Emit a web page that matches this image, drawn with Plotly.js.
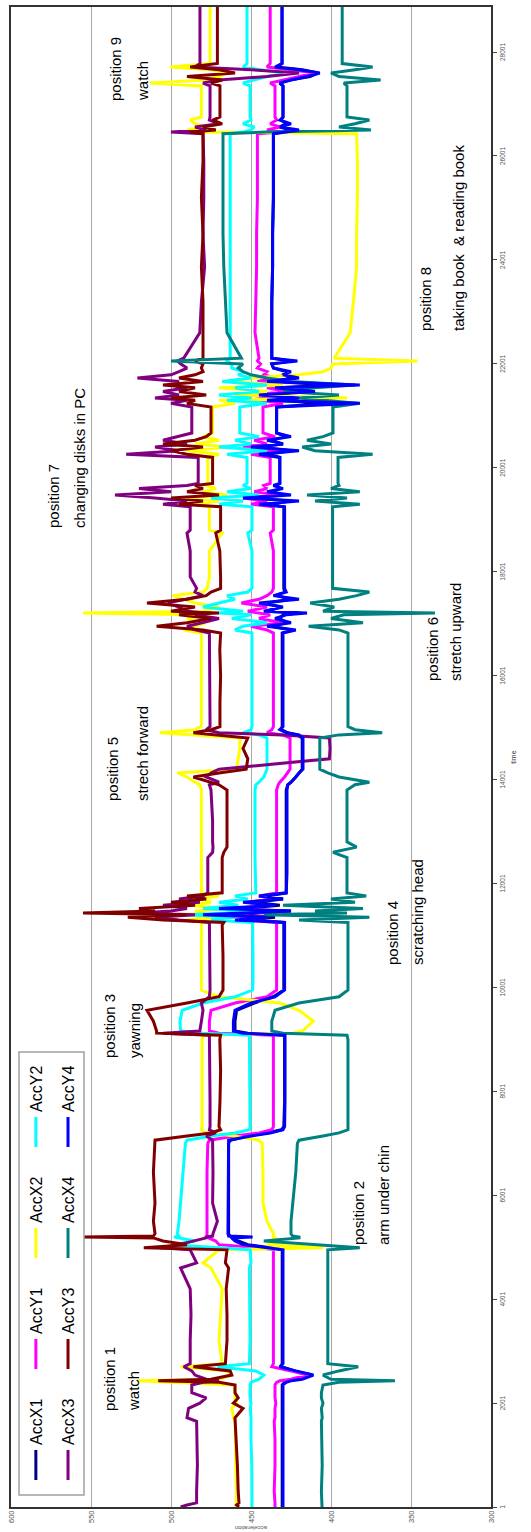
<!DOCTYPE html>
<html><head><meta charset="utf-8">
<script src="https://cdn.plot.ly/plotly-3.0.1.min.js"></script>
<style>
html,body{margin:0;padding:0;background:#fff;overflow:hidden;width:531px;height:1532px;}
#chart{position:absolute;left:0;top:0;width:1532px;height:531px;transform-origin:0 0;transform:translate(0px,1532px) rotate(-90deg);}
</style></head><body><div id="chart"></div><script>
// sample index (time)
var time = [
1,40,80,300,800,1300,1650,1720,1900,2000,2100,2200,2260,2350,
2400,2430,2460,2540,2620,2700,
2760,3200,3700,4200,4600,4700,4950,
4990,5050,5120,5180,5197,5215,5260,
5500,5850,6450,7000,
7060,7140,7200,7260,7320,
7800,8400,9000,9080,
9120,9160,9350,9560,9700,9820,9950,
10100,10600,11200,11250,
11300,11350,11400,11433,11470,11520,11580,11640,11700,11760,11820,
12200,12500,12600,12700,12800,13200,13800,
13900,13950,14050,14127,14200,
14400,14600,14800,
14860,14900,14960,15020,
15500,16000,16500,16820,
16880,16950,17020,17100,17170,17206,17240,17320,17398,17470,17540,17610,17680,
17900,18400,18745,18800,19250,
19300,19360,19420,19477,19540,19600,19660,19700,
19950,20200,
20260,20330,20400,20460,20530,20600,20670,
20900,21170,
21240,21300,21343,21400,21470,21540,21594,21660,21728,21790,21850,21920,
22000,22055,22110,22600,
23200,23867,24500,25200,25900,26430,
26463,26501,26560,26620,26693,26750,
27000,27350,
27405,27464,27530,27598,27660,27713,27780,
28200,28868];

var accX1 = [
430.5,430.5,430.5,430.5,430.5,430.5,430.5,430.5,430.5,430.5,430.5,430.5,430.5,430.5,
429,428,420,412,423,431,
430.5,430.5,430.5,430.5,430.5,430.5,430.5,
438,452,458,462,462,463,464,
464,464,464,464,
463,452,440,431,429.5,
429,429,429,429,
452,460,460,459,448,436,429.5,
429.5,429.5,429.5,429.5,
450,435,465,445,425,455,432,448,430,440,428,
428,428,428,428,428,428,428,
427,425,422,420,418,
418,418,418,
421,427,431,430.5,
430.5,430.5,430.5,430.5,
425,437,428,432,430,420,440,432,440,425,434,429,429.5,
429.5,429.5,429.5,429.5,429.5,
440,425,450,430,437,432,434,432,
432,432,
440,425,446,430,438,428,434,
434,434,
400,438,425,440,418,432,400,436,425,430,428,436,
437,425,437,437,
437,436.5,436.5,436,436,436,
430,425,432,428,431,430,
430,430,
432,426,413,408,418,434,430.6,
430.6,430.6];

var accY1 = [
435,435,435,435.5,435,435,435.5,435,435,434.5,435,435,435,435,
434,432,425,415,425,437,
436,436,436,436,436,436,436,
445,470,472,477,478,477.5,477.5,
477.5,477.5,477.5,477,
476,460,445,437,436,
436,436,436,436,
470,476,476,475,460,440,434,
434,434,434,434,
455,440,470,450,430,460,440,452,435,445,434,
434,434,434,434,434,434,434,
433,432,429,427,425.6,
425.6,425.6,425.6,
430,440,437,436,
436,436,436,436,
440,450,430,445,438,445,452,440,456,445,440,437,436,
436,436,438,436,436,
450,440,455,432,448,440,442,438,
438,438,
450,430,455,440,448,435,442.5,
442.5,442.5,
430,445,435,450,428,440,432,446,435,442,440,446,
444,446,445,447.5,
447,446.5,446.5,446,446,446,
430,440,432,438,434,435,
435,435,
438,430,420,410,425,440,438,
438,438];

var accX2 = [
459.4,459.4,459.4,459,459.5,460,460,461,462,459,460,460,460,460,
500,521,470,462,465,494,
468,470,469,468,475,480,470,
405,440,430,436,436,436,436,
440,442.5,442.5,443,
445,460,478,481,480.6,
480.6,480.6,480.6,480,
424,418,411,420,432,470,481,
481,481,481,481,
490,470,495,478,485,465,488,475,482,470,481,
481,481,481,481,481,481,481,
482,485,490,496,459,
458,457,457,
490,507,485,481,
481,481,481,481,
492,485,478,490,483,555,480,470,485,492,499,480,477.5,
476,476,468,476,476,
485,470,490,465,480,472,478,477,
477,477,
470,490,465,485,470,480,474,
474,474,
460,470,390,460,440,470,430,465,450,420,405,400,
399,346,398,388,
386,384,384,383.5,383.5,384,
480,490,478,485,488,481,
481,481,
513,478,470,465,475,500.6,475.6,
475.6,475.6];

var accY2 = [
449.4,449.4,449.4,449.5,449.5,450,450,450,450.5,450,450.6,450.6,450.6,450.6,
450,448,445,442,447,471,
451,450.6,450.6,450.6,451,450,450.6,
470,499,485,497,498,495,496,
495,494,492.5,491,
490,475,460,451,450.6,
450.6,450.6,450.6,451,
480,494,494.4,493,480,460,449,
448.75,448.75,448.75,449,
475,460,490,465,450,480,458,470,452,460,447,
447.5,447.5,447.5,447.5,447.5,447.5,447.5,
447,445,442,441,440,
440,440,440,
445,455,450,449.4,
449.4,449.4,449.4,449.4,
460,455,440,462,450,470,455,480,470,460,465,452,449.4,
449.4,449.4,452,449.4,449.4,
470,455,475,445,465,450,455,452.5,
452.5,452.5,
465,440,470,450,460,445,457,
457,457,
440,465,450,470,445,460,440,468,450,458,455,462,
462,465,463,463,
463,463,463,463,463,463,
455,450,448,455,450,450.6,
450.6,450.6,
455,448,440,430,445,455,452.5,
452.5,452.5];

var accX3 = [
494,490,484,484,483.5,484,484,490,489,482,478,487,487,487,
480,470,478,485,487,492,
488,488,487.5,488,494,484,488,
507,495,485,478,478,474,473.75,
471,474,473.75,474,
474,478,472,476,475.6,
475.6,475.6,475.6,476,
505,482,481,480,481,476,475.6,
475.6,475.6,475.6,476,
495,510,485,520,500,490,505,482,495,480,477,
476.9,477,474,473.75,474,474,475,
476,470,478,475,470,
401,400.6,401,
430,470,478,475.6,
475.6,475.6,475.6,476,
485,490,480,470,485,478,490,495,502,490,480,485,484,
488,488,490,488,488,
505,490,510,535,500,520,490,483,
483,483,
528,495,510,490,505,495,487,
487,487,
500,490,510,495,505,490,500,495,521,500,495,490,
494,496,492,482,
481,479,480,479.5,479.5,480,
500,478,485,470,476,475.6,
475.6,475.6,
480,470,440,420,450,485,481.9,
481.9,481.9];

var accY3 = [
457.5,459,457.5,458,458.5,459.5,460,460,455,461,458,460,460,460,
470,508,475,462,463,486,
466,465,465,465.5,464,466,465,
517,490,505,511,555,511,510,
511,510,511,510.5,
510,490,475,469,470,
469.4,469,469.5,469,
509,509,511,515,490,470,467.5,
467.5,467.5,468,467,
505,527,490,555,510,520,485,500,478,490,468,
468,468,467,465,465,465,465,
470,475,486,470,453,
452,455,452,
470,486,475,469.4,
469.4,469,469.5,469,
480,509,490,475,495,470,500,485,515,490,478,475,469,
469,469.5,472,469,469,
495,480,500,470,490,480,485,474,
474,474,
490,500,480,505,485,478,475,
475,475,
490,485,500,478,495,485,505,480,495,485,480,481,
480,485,480,480,
480,481,480,481,480,480,
488,472,480,468,474,469.4,
469.4,469.4,
475,468,490,460,470,488,471,
471,471];

var accX4 = [
405.6,405.6,405.6,406,405.5,406,406,405.5,406,405,406,406,405.6,405,
395,360,400,405,395,383,
402,402,402,402,402,402,402,
382,410,442,420,420,424,425,
425,424,422,421,
420,405,395,389.4,389.4,
389.4,389.4,389.4,390,
430,437,437,435,420,395,389.4,
389.4,389.4,389.4,389.4,
420,376,442,390,410,380,430,385,400,378,390,
390,390,398.75,384,390,390,390,
385,376,395,402,407,
407,407,407,
395,368,385,389.4,
389.4,389.4,389.4,389.4,
395,414,380,400,392,335,405,398,413,395,384,376,399,
399,399,399,399,399,
382,410,390,415,382,400,395,395.6,
395.6,395.6,
374,410,418,400,415,405,398.75,
398.75,398.75,
382,405,420,395,430,410,385,425,440,450,455,458,
455,500,456,465,
466,467,467.5,467.5,467.5,467.5,
440,375,395,385,376,390,
390,390,
392,369,395,400,385,374,393,
393,393];

var accY4 = [
430,430,430,430,430,430,430,430,430,430,430,430,430,430,
428,425,418,411,422,432,
430,430,430,430,430,430,430,
440,455,460,462,449,464,464.4,
464.4,464.4,464.4,464.4,
464,450,438,430,429,
428.75,428.75,428.75,428.75,
455,461,461,460,450,435,429,
429,429,429,429,
460,440,480,450,425,470,435,455,430,445,428,
427.5,427.5,427.5,427.5,427.5,427.5,427.5,
427,425,422,420,417.5,
417.5,417.5,417.5,
420,428,432,430,
430,430,430,430,
422,440,425,435,428,415,442,430,445,420,436,428,429,
429,429,429,429,429,
445,420,455,425,440,430,436,432,
432,432,
445,420,450,430,440,425,434,
434,434,
382,440,420,445,410,435,382,440,420,430,425,436,
437,421,437,437,
437,436.5,436.5,436,436,436,
428,420,432,425,432,430,
430,430,
432,425,415,407,420,435,430.6,
430.6,430.6];

var seriesNames = ['AccX1','AccY1','AccX2','AccY2','AccX3','AccY3','AccX4','AccY4'];
var seriesValues = [accX1, accY1, accX2, accY2, accX3, accY3, accX4, accY4];
var seriesColors = ['#000080','#FF00FF','#FFFF00','#00FFFF','#800080','#800000','#008080','#0000FF'];
var timeTicks = [1,2001,4001,6001,8001,10001,12001,14001,16001,18001,20001,22001,24001,26001,28001];
var valueTicks = [300,350,400,450,500,550,600];

seriesValues.forEach(function(v,i){ if(v.length!==time.length) throw new Error(seriesNames[i]+' length '+v.length+' vs '+time.length); });

var traces = seriesNames.map(function(n,i){
  return {type:'scatter', mode:'lines', name:n, x:time, y:seriesValues[i],
    line:{color:seriesColors[i], width:3}, legend: i<4 ? 'legend' : 'legend2', hoverinfo:'skip'};
});

var FONT = 'Liberation Sans, Arial, sans-serif';
function note(t, x, y){ return {text:t, x:x, y:y, xref:'x', yref:'y', xanchor:'left', yanchor:'middle', showarrow:false, font:{family:FONT, size:15, color:'#000'}}; }
var annotations = [
  note('position 1',1810,538.4), note('watch',1810,523.4),
  note('position 2',5005,382.8), note('arm under chin',5005,367.2),
  note('position 3',8603,538.4), note('yawning',8603,522.8),
  note('position 4',10393,361.6), note('scratching head',10393,345.9),
  note('position 5',13550,536.6), note('strech forward',13550,517.8),
  note('position 6',15859,336.6), note('stretch upward',15859,322.2),
  note('position 7',18803,573.4), note('changing disks in PC',18803,557.2),
  note('position 8',22595,340.9), note('taking book\u00a0 & reading book',22595,320.3),
  note('position 9',27021,534.7), note('watch',27021,517.8)
];

var legendCommon = {orientation:'h', entrywidth:66, entrywidthmode:'pixels', bgcolor:'rgba(0,0,0,0)', borderwidth:0,
  font:{family:FONT, size:16, color:'#000'}, xanchor:'left', yanchor:'middle', itemclick:false, itemdoubleclick:false};

var layout = {
  width:1532, height:531,
  margin:{l:25, r:7, t:11, b:40},
  paper_bgcolor:'#fff', plot_bgcolor:'#fff',
  font:{family:FONT, color:'#333'},
  showlegend:true,
  legend: Object.assign({}, legendCommon, {x:0.0147, y:0.948}),
  legend2: Object.assign({}, legendCommon, {x:0.0147, y:0.881}),
  xaxis:{range:[1,28868], tickmode:'array', tickvals:timeTicks, ticktext:timeTicks.map(String),
    ticks:'outside', ticklen:4, tickcolor:'#444', tickfont:{size:6.5, color:'#555'},
    showgrid:false, zeroline:false, showline:true, mirror:true, linecolor:'#333', linewidth:2,
    title:{text:'time', font:{size:7, color:'#333'}, standoff:6}},
  yaxis:{range:[300,600], tickmode:'array', tickvals:valueTicks, ticks:'', tickfont:{size:7.5, color:'#555'},
    showgrid:true, gridcolor:'#a8a8a8', gridwidth:1, zeroline:false, showline:true, mirror:true, linecolor:'#333', linewidth:2,
    title:{text:'acceleration', font:{size:6, color:'#555'}, standoff:2}},
  shapes:[{type:'rect', xref:'paper', yref:'paper', x0:0.008, x1:0.3033, y0:0.8479, y1:0.9833,
    line:{color:'#a0a0a0', width:1.5}, fillcolor:'#fff', layer:'above'}],
  annotations: annotations
};

Plotly.newPlot('chart', traces, layout, {staticPlot:true, displayModeBar:false, responsive:false});
</script></body></html>
